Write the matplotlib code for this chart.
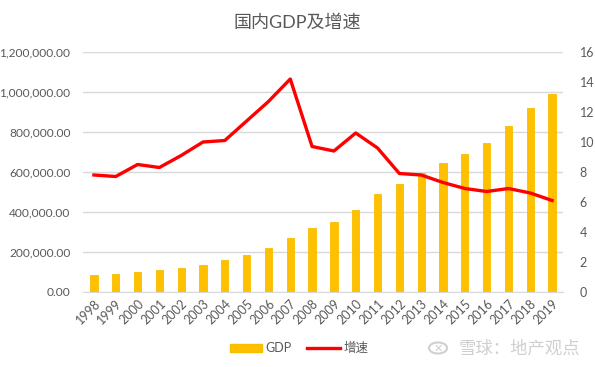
import matplotlib
matplotlib.use('Agg')
import matplotlib.pyplot as plt
from matplotlib.ticker import FuncFormatter, MultipleLocator
from matplotlib.lines import Line2D
from matplotlib.patches import Patch, Circle

plt.rcParams['font.family'] = ['Lato', 'Noto Sans CJK SC', 'DejaVu Sans']

#data
years = ['1998', '1999', '2000', '2001', '2002', '2003', '2004', '2005', '2006', '2007', '2008',
         '2009', '2010', '2011', '2012', '2013', '2014', '2015', '2016', '2017', '2018', '2019']
gdp = [85195.5, 90564.4, 100280.1, 110863.1, 121717.4, 137422.0, 161840.2, 187318.9,
       219438.5, 270092.3, 319244.6, 348517.7, 412119.3, 487940.2, 538580.0, 592963.2,
       643563.1, 688858.2, 746395.1, 832035.9, 919281.1, 990865.1]
growth = [7.8, 7.7, 8.5, 8.3, 9.1, 10.0, 10.1, 11.4, 12.7, 14.2, 9.7,
          9.4, 10.6, 9.6, 7.9, 7.8, 7.3, 6.9, 6.7, 6.9, 6.6, 6.1]

txt = '#595959'
grid = '#D9D9D9'

fig = plt.figure(figsize=(5.95, 3.67), dpi=100)
ax = fig.add_axes([83/595, 1-292/367, 480/595, 240/367])
ax2 = ax.twinx()

x = range(len(years))
ax.bar(x, gdp, width=0.33, color='#FFC000', edgecolor='#F7BE00', linewidth=0.6, zorder=2)
ax.set_xlim(-0.5, len(years) - 0.5)
ax.set_ylim(0, 1200000)
ax.yaxis.set_major_locator(MultipleLocator(200000))
ax.yaxis.set_major_formatter(FuncFormatter(lambda v, p: '{:,.2f}'.format(v)))
ax.grid(axis='y', color=grid, linewidth=1, zorder=0)
ax.set_axisbelow(True)
ax.set_xticks(list(x))
ax.set_xticklabels(years, rotation=45, ha='right', rotation_mode='anchor')

ax2.plot(x, growth, color='#FF0000', linewidth=2.4, zorder=3)
ax2.set_ylim(0, 16)
ax2.yaxis.set_major_locator(MultipleLocator(2))

for a in (ax, ax2):
    for s in a.spines.values():
        s.set_visible(False)
    a.tick_params(length=0, colors=txt, labelsize=9)
ax.spines['bottom'].set_visible(True)
ax.spines['bottom'].set_color(grid)
ax.tick_params(axis='y', pad=9, labelsize=8.6)
ax.tick_params(axis='x', pad=4)
ax2.tick_params(axis='y', pad=12)

fig.text(0.5, 1-22/367, '国内GDP及增速', ha='center', va='center', fontsize=13, color=txt)

handles = [Patch(facecolor='#FFC000', edgecolor='#F7BE00'),
           Line2D([0], [0], color='#FF0000', linewidth=2.4)]
fig.legend(handles, ['GDP', '增速'], loc='center', bbox_to_anchor=(299/595, 1-348/367),
           ncol=2, frameon=False, fontsize=9, labelcolor=txt,
           handlelength=2.6, handleheight=0.6, columnspacing=1.2, handletextpad=0.3)

# watermark
fig.patches.append(Circle((438/595, 1-348/367), 9/595, transform=fig.transFigure,
                          facecolor='none', edgecolor='#D0D0D0', linewidth=1.5))
fig.text(438/595, 1-348/367, '✕', ha='center', va='center', fontsize=8, color='#D0D0D0')
fig.text(580/595, 1-348/367, '雪球：地产观点', ha='right', va='center', fontsize=12.5,
         color='#CFCFCF')

fig.savefig('out.png', dpi=100)
